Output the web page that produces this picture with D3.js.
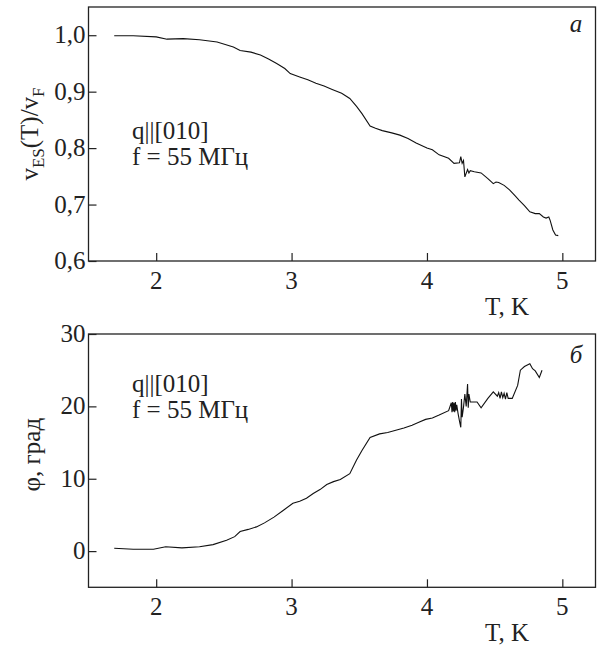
<!DOCTYPE html>
<html>
<head>
<meta charset="utf-8">
<script src="https://cdnjs.cloudflare.com/ajax/libs/d3/7.8.5/d3.min.js"></script>
<style>
body { margin: 0; background: #fff; }
</style>
</head>
<body>
<svg width="600" height="648" font-family="'Liberation Serif', Tinos, 'Times New Roman', Times, 'DejaVu Serif', serif"></svg>
<script>
// panel a: sound velocity ratio vs temperature
let tempA = [1.69, 1.83, 2.0, 2.08, 2.2, 2.32, 2.45, 2.57, 2.62, 2.70, 2.77, 2.83, 2.89, 2.95, 2.99, 3.06, 3.12, 3.18, 3.24, 3.30, 3.37,
  3.43, 3.48, 3.52, 3.58, 3.62, 3.67, 3.74, 3.80, 3.86, 3.92, 4.0, 4.04, 4.09, 4.16, 4.20, 4.24, 4.25, 4.26, 4.27, 4.28, 4.30,
  4.31, 4.32, 4.35, 4.40, 4.45, 4.49, 4.51, 4.53, 4.57, 4.61, 4.65, 4.68, 4.72, 4.76, 4.80, 4.83, 4.86, 4.88, 4.90, 4.91,
  4.93, 4.95, 4.97]
let velA = [0.999, 0.999, 0.997, 0.993, 0.994, 0.992, 0.988, 0.979, 0.973, 0.970, 0.965, 0.958, 0.950, 0.941, 0.932, 0.926, 0.921, 0.915,
  0.910, 0.904, 0.897, 0.888, 0.874, 0.861, 0.839, 0.835, 0.831, 0.827, 0.823, 0.817, 0.809, 0.800, 0.797, 0.788, 0.782, 0.773,
  0.774, 0.785, 0.773, 0.778, 0.749, 0.762, 0.756, 0.760, 0.758, 0.756, 0.746, 0.737, 0.740, 0.739, 0.734, 0.726, 0.716, 0.708,
  0.698, 0.687, 0.684, 0.684, 0.678, 0.676, 0.678, 0.672, 0.655, 0.646, 0.645]

// panel б: phase vs temperature
let tempB = [1.69, 1.83, 1.98, 2.07, 2.19, 2.32, 2.42, 2.52, 2.58, 2.62, 2.68, 2.74, 2.80, 2.87, 2.94, 3.01, 3.06, 3.11, 3.16,
  3.21, 3.26, 3.31, 3.36, 3.43, 3.48, 3.52, 3.58, 3.65, 3.71, 3.77, 3.83, 3.89, 3.94, 3.99, 4.04, 4.09, 4.16, 4.18, 4.185,
  4.19, 4.195, 4.20, 4.205, 4.21, 4.215, 4.22, 4.23, 4.24, 4.25, 4.255, 4.26, 4.27, 4.28, 4.29, 4.30, 4.305, 4.31, 4.32,
  4.33, 4.37, 4.40, 4.45, 4.49, 4.52, 4.53, 4.54, 4.55, 4.56, 4.57, 4.58, 4.59, 4.60, 4.63, 4.67, 4.69, 4.72, 4.76, 4.78,
  4.80, 4.83, 4.85]
let phaseB = [0.4, 0.25, 0.25, 0.6, 0.45, 0.6, 0.9, 1.5, 2.0, 2.7, 3.0, 3.35, 3.9, 4.7, 5.65, 6.6, 6.9, 7.3, 7.95,
  8.5, 9.2, 9.6, 9.9, 10.7, 12.6, 13.9, 15.7, 16.2, 16.4, 16.7, 17.0, 17.4, 17.8, 18.2, 18.4, 18.8, 19.4, 20.5, 19.2,
  20.6, 19.3, 20.5, 19.2, 20.6, 19.4, 20.2, 19.0, 18.0, 17.1, 21.0, 18.5, 19.9, 21.7, 20.0, 23.1, 19.8, 21.7, 20.6,
  20.6, 20.6, 19.8, 21.1, 22.0, 21.4, 21.9, 21.1, 22.0, 21.2, 21.8, 21.0, 21.9, 21.1, 21.1, 22.9, 25.0, 25.5, 25.9,
  25.2, 24.9, 24.0, 25.0]

let ticksX = [2, 3, 4, 5]
let ticksA = [0.6, 0.7, 0.8, 0.9, 1.0]
let ticksB = [0, 10, 20, 30]

let svg = d3.select("svg")
let left = 88.5, right = 595.5
let fontSize = 25

let x = d3.scaleLinear()
    .domain([1.5, 5.245])
    .range([left, right])

let panels = [
  { top: 7, bottom: 261, domain: [0.6, 1.05], ticks: ticksA, fmt: d => d3.format(".1f")(d).replace(".", ","),
    xs: tempA, ys: velA, letter: "a", letterY: 32, labelX: 38 },
  { top: 334, bottom: 587.3, domain: [-5, 30], ticks: ticksB, fmt: d3.format("d"),
    xs: tempB, ys: phaseB, letter: "б", letterY: 363, labelX: 40 }
]

panels.forEach((p, i) => {
  let y = d3.scaleLinear()
      .domain(p.domain)
      .range([p.bottom, p.top])

  let g = svg.append("g").style("fill", "#222")

  // frame
  g.append("rect")
      .attr("x", left)
      .attr("y", p.top)
      .attr("width", right - left)
      .attr("height", p.bottom - p.top)
      .style("fill", "none")
      .style("stroke", "#222")
      .style("stroke-width", 1.3)

  // inward ticks
  g.append("g")
      .attr("transform", "translate(0," + p.bottom + ")")
      .call(d3.axisTop(x).tickValues(ticksX).tickSize(8).tickFormat(""))
      .call(a => a.select(".domain").remove())
  g.append("g")
      .attr("transform", "translate(" + left + ",0)")
      .call(d3.axisRight(y).tickValues(p.ticks).tickSize(8).tickFormat(""))
      .call(a => a.select(".domain").remove())
  g.selectAll(".tick line").style("stroke", "#222").style("stroke-width", 1.2)

  // tick labels
  g.selectAll(".xlab")
      .data(ticksX)
      .join("text")
      .attr("x", d => x(d))
      .attr("y", p.bottom + 28)
      .attr("text-anchor", "middle")
      .style("font-size", fontSize + "px")
      .text(d => d)

  g.selectAll(".ylab")
      .data(p.ticks)
      .join("text")
      .attr("x", left - 3)
      .attr("y", d => y(d) + 8)
      .attr("text-anchor", "end")
      .style("font-size", fontSize + "px")
      .text(p.fmt)

  g.append("text")
      .attr("x", 507)
      .attr("y", p.bottom + 54)
      .attr("text-anchor", "middle")
      .style("font-size", fontSize + "px")
      .text("T, K")

  // curve
  let line = d3.line()
      .x(d => x(d[0]))
      .y(d => y(d[1]))
  g.append("path")
      .datum(p.xs.map((t, k) => [t, p.ys[k]]))
      .attr("d", line)
      .style("fill", "none")
      .style("stroke", "#111")
      .style("stroke-width", 1.1)

  // annotation
  g.append("text")
      .attr("x", 132)
      .attr("y", p.top + (i == 0 ? 132 : 58))
      .style("font-size", fontSize + "px")
      .text("q||[010]")
  g.append("text")
      .attr("x", 132)
      .attr("y", p.top + (i == 0 ? 158 : 84))
      .style("font-size", fontSize + "px")
      .text("f = 55 МГц")

  g.append("text")
      .attr("x", 576)
      .attr("y", p.letterY)
      .attr("text-anchor", "middle")
      .style("font-size", fontSize + "px")
      .style("font-style", "italic")
      .text(p.letter)

  // y axis title
  let cy = (p.top + p.bottom) / 2
  let title = g.append("text")
      .attr("transform", "translate(" + p.labelX + "," + (i == 0 ? cy : cy - 6) + ") rotate(-90)")
      .attr("text-anchor", "middle")
      .style("font-size", fontSize + "px")
  if (i == 0) {
    title.append("tspan").text("v")
    title.append("tspan").attr("dy", 6).style("font-size", "17px").text("ES")
    title.append("tspan").attr("dy", -6).text("(T)/v")
    title.append("tspan").attr("dy", 6).style("font-size", "17px").text("F")
  } else {
    title.text("φ, град")
  }
})
</script>
</body>
</html>
